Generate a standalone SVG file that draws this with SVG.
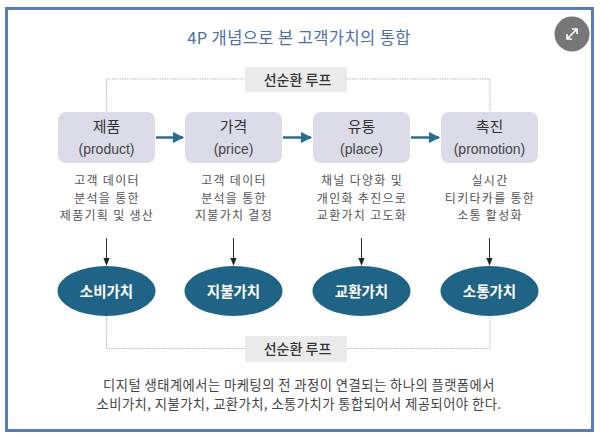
<svg xmlns="http://www.w3.org/2000/svg" width="600" height="437" viewBox="0 0 600 437">
<defs>
<style>
text{font-family:"Noto Sans CJK KR","Noto Sans",sans-serif;text-anchor:middle}
.title{font-size:16.5px;fill:#4d6ea6;letter-spacing:0.4px}
.lbl{font-size:14px;fill:#333;font-weight:500}
.nh{font-size:15px;fill:#333}
.ne{font-size:14px;fill:#444;font-family:"Liberation Sans","Noto Sans",sans-serif}
.desc{font-size:12px;fill:#555;letter-spacing:1.3px}
.val{font-size:14.5px;fill:#fff;font-weight:bold}
.cap{font-size:13.3px;fill:#444;letter-spacing:0.45px}
.box{fill:#dcdce9}
.ell{fill:#1f6387}
.loop{fill:none;stroke:#b8b8b8;stroke-width:1;stroke-dasharray:1.5 1}
.harr{stroke:#2b6e90;stroke-width:2.5;fill:none}
.varr{stroke:#333;stroke-width:1;fill:none}
</style>
<marker id="ah" viewBox="0 0 10 10" refX="9" refY="5" markerWidth="4.5" markerHeight="4.5" orient="auto"><path d="M0,0L10,5L0,10z" fill="#2b6e90"/></marker>
<marker id="dh" viewBox="0 0 10 10" refX="9" refY="5" markerWidth="8" markerHeight="8" markerUnits="userSpaceOnUse" orient="auto"><path d="M0,1L10,5L0,9z" fill="#222"/></marker>
</defs>
<rect x="0" y="0" width="600" height="437" fill="#fff"/>
<rect x="6.5" y="8.5" width="586" height="422" fill="#fff" stroke="#5a7cb4" stroke-width="3"/>
<text class="title" x="299" y="44">4P 개념으로 본 고객가치의 통합</text>
<g id="expand-icon">
<circle cx="572" cy="34" r="17.5" fill="#777"/>
<path d="M567,39L577,29M572,29h5v5M567,34v5h5" stroke="#fff" stroke-width="1.6" fill="none"/>
</g>
<g id="connectors">
<path class="loop" d="M106.5,111V79H245M347,79H490V111"/>
<path class="loop" d="M106.5,316V348.5H245M347,348.5H490V316"/>
<line class="harr" x1="156" y1="137.5" x2="183" y2="137.5" marker-end="url(#ah)"/>
<line class="harr" x1="283" y1="137.5" x2="311" y2="137.5" marker-end="url(#ah)"/>
<line class="harr" x1="411" y1="137.5" x2="439" y2="137.5" marker-end="url(#ah)"/>
<line class="varr" x1="106.5" y1="238" x2="106.5" y2="265" marker-end="url(#dh)"/>
<line class="varr" x1="233.5" y1="238" x2="233.5" y2="265" marker-end="url(#dh)"/>
<line class="varr" x1="361.5" y1="238" x2="361.5" y2="265" marker-end="url(#dh)"/>
<line class="varr" x1="489.5" y1="238" x2="489.5" y2="265" marker-end="url(#dh)"/>
</g>
<g id="loop-top">
<rect x="245" y="67" width="102" height="25" fill="#ebebeb"/>
<text class="lbl" x="297.5" y="84.5">선순환 루프</text>
</g>
<g id="loop-bottom">
<rect x="245" y="336" width="102" height="26" fill="#ebebeb"/>
<text class="lbl" x="297.5" y="354">선순환 루프</text>
</g>
<g id="product">
<rect class="box" x="58" y="112" width="97" height="51" rx="8"/>
<text class="nh" x="106.5" y="132">제품</text>
<text class="ne" x="106.5" y="154">(product)</text>
<text class="desc"><tspan x="107" y="185">고객 데이터</tspan><tspan x="107" y="202.5">분석을 통한</tspan><tspan x="107" y="220">제품기획 및 생산</tspan></text>
</g>
<g id="price">
<rect class="box" x="185" y="112" width="97" height="51" rx="8"/>
<text class="nh" x="233.5" y="132">가격</text>
<text class="ne" x="233.5" y="154">(price)</text>
<text class="desc"><tspan x="234" y="185">고객 데이터</tspan><tspan x="234" y="202.5">분석을 통한</tspan><tspan x="234" y="220">지불가치 결정</tspan></text>
</g>
<g id="place">
<rect class="box" x="313" y="112" width="97" height="51" rx="8"/>
<text class="nh" x="361.5" y="132">유통</text>
<text class="ne" x="361.5" y="154">(place)</text>
<text class="desc"><tspan x="362" y="185">채널 다양화 및</tspan><tspan x="362" y="202.5">개인화 추진으로</tspan><tspan x="362" y="220">교환가치 고도화</tspan></text>
</g>
<g id="promotion">
<rect class="box" x="441" y="112" width="97" height="51" rx="8"/>
<text class="nh" x="489.5" y="132">촉진</text>
<text class="ne" x="489.5" y="154">(promotion)</text>
<text class="desc"><tspan x="490" y="185">실시간</tspan><tspan x="490" y="202.5">티키타카를 통한</tspan><tspan x="490" y="220">소통 활성화</tspan></text>
</g>
<g id="v1">
<ellipse class="ell" cx="106.5" cy="291" rx="49" ry="25"/>
<text class="val" x="106.5" y="296.5">소비가치</text>
</g>
<g id="v2">
<ellipse class="ell" cx="233.5" cy="291" rx="49" ry="25"/>
<text class="val" x="233.5" y="296.5">지불가치</text>
</g>
<g id="v3">
<ellipse class="ell" cx="361.5" cy="291" rx="49" ry="25"/>
<text class="val" x="361.5" y="296.5">교환가치</text>
</g>
<g id="v4">
<ellipse class="ell" cx="489.5" cy="291" rx="49" ry="25"/>
<text class="val" x="489.5" y="296.5">소통가치</text>
</g>
<text class="cap"><tspan x="299" y="390">디지털 생태계에서는 마케팅의 전 과정이 연결되는 하나의 플랫폼에서</tspan><tspan x="299" y="409">소비가치, 지불가치, 교환가치, 소통가치가 통합되어서 제공되어야 한다.</tspan></text>
</svg>
